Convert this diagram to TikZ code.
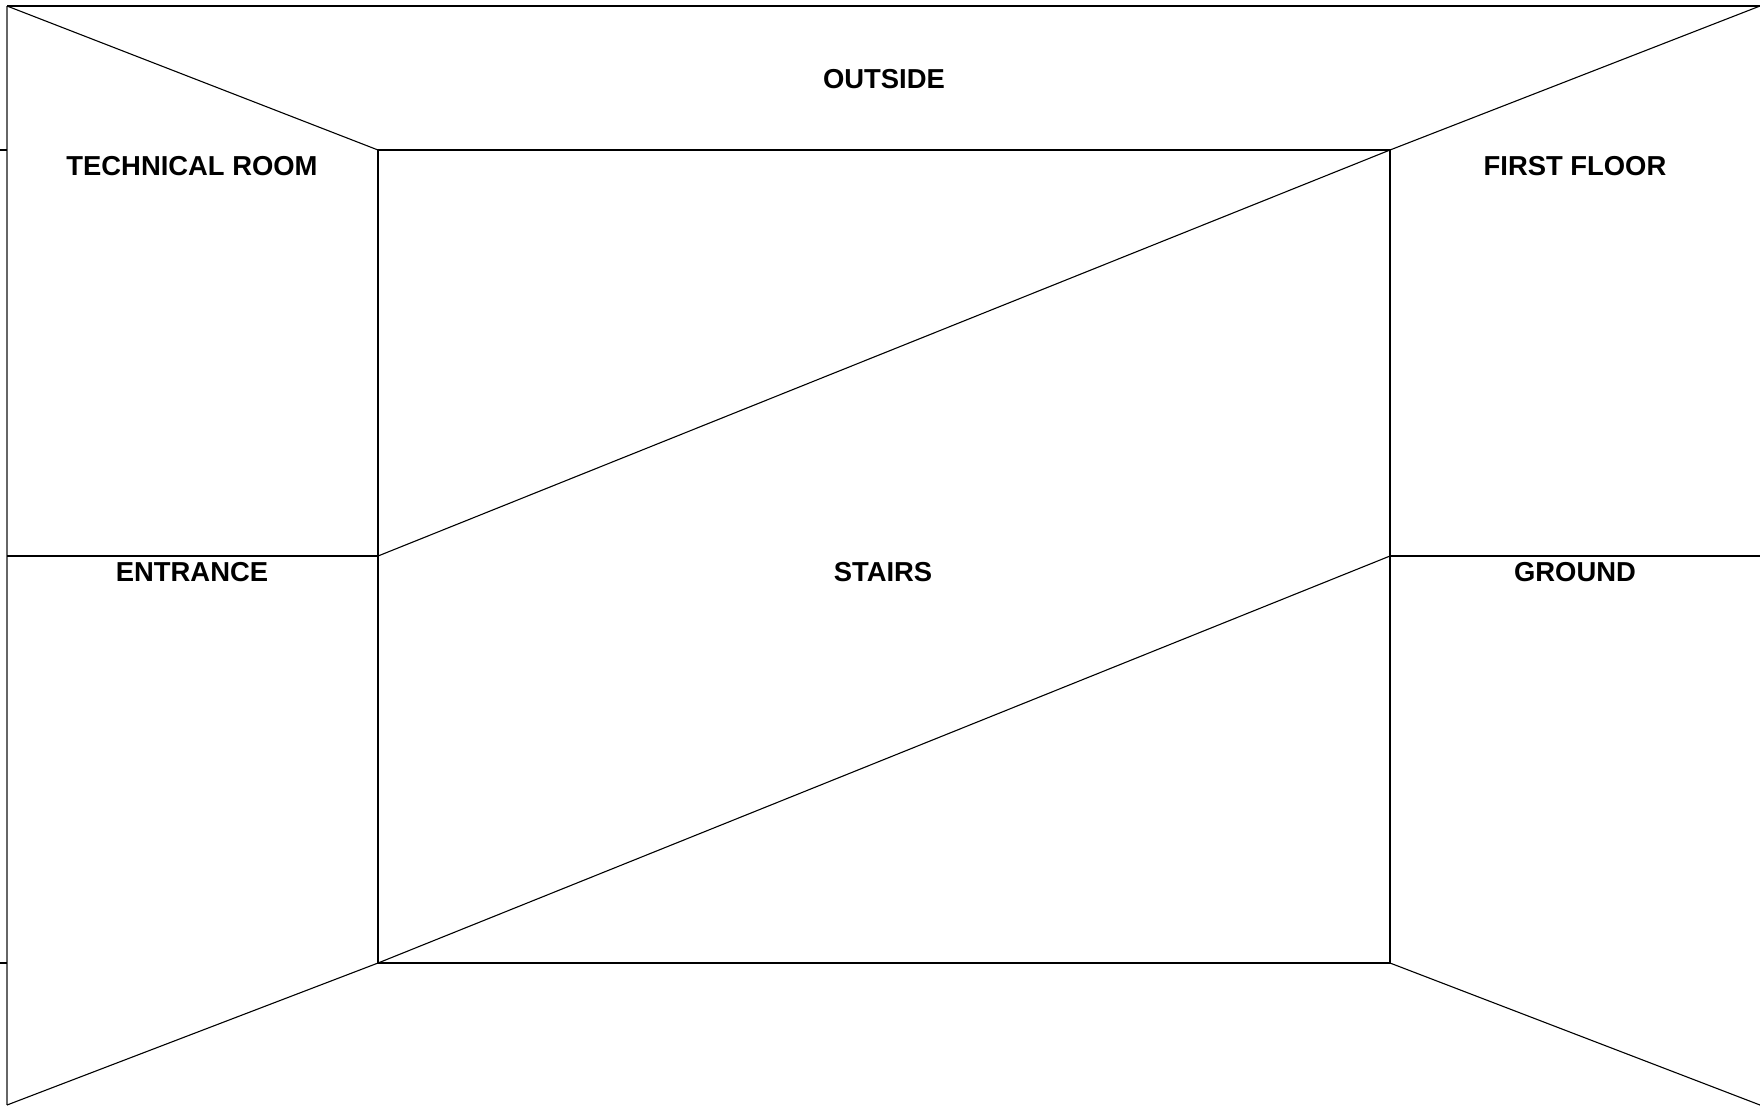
\documentclass[tikz,border=0pt]{standalone}
\usepackage{fontspec}
\setmainfont{Liberation Sans}
\usetikzlibrary{positioning, calc}
\tikzset{
    room/.style={font=\fontsize{13.7}{16}\selectfont\bfseries, inner sep=0pt, anchor=center},
    wall/.style={draw=black, line width=0.55pt},
    floorline/.style={draw=black, line width=1.1pt},
    frame/.style={draw=black!60, line width=0.8pt}
}

\begin{document}
\begin{tikzpicture}[x=0.5pt, y=-0.5pt]
        \useasboundingbox (0,0) rectangle (1760,1105);
        % outer corners and stair box
        \coordinate (otl) at (7,6);
        \coordinate (otr) at (1760,6);
        \coordinate (obl) at (7,1105);
        \coordinate (obr) at (1760,1105);
        \coordinate (itl) at (378,150);
        \coordinate (itr) at (1390,150);
        \coordinate (ibl) at (378,963);
        \coordinate (ibr) at (1390,963);
        \coordinate (iml) at (378,556);
        \coordinate (imr) at (1390,556);
        \coordinate (oml) at (7,556);
        \coordinate (omr) at (1760,556);
        \coordinate (tick1) at (0,150);
        \coordinate (tick2) at (0,963);

        \draw[frame] (otl) -- (obl);
        \draw[wall] (otl) -- (otr);
        \draw[wall] (tick1) -- (tick1 -| otl);
        \draw[wall] (tick2) -- (tick2 -| otl);

        \draw[wall] (itl) rectangle (ibr);
        \draw[wall] (otl) -- (itl);
        \draw[wall] (otr) -- (itr);
        \draw[wall] (obl) -- (ibl);
        \draw[wall] (obr) -- (ibr);
        \draw[wall] (iml) -- (itr);
        \draw[wall] (ibl) -- (imr);
        \draw[floorline] (oml) -- (iml);
        \draw[floorline] (imr) -- (omr);

        \node[room] (outside) at (884,79) {OUTSIDE};
        \node[room] (technical) at (192,166) {TECHNICAL ROOM};
        \node[room] (firstfloor) at (1575,166) {FIRST FLOOR};
        \node[room] (entrance) at (192,572) {ENTRANCE};
        \node[room] (stairs) at (883,572) {STAIRS};
        \node[room] (ground) at (1575,572) {GROUND};
    \end{tikzpicture}
\end{document}
